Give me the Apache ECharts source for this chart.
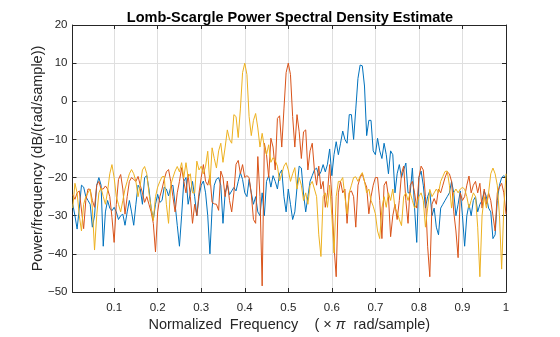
<!DOCTYPE html>
<html>
<head>
<meta charset="utf-8">
<script src="https://cdn.jsdelivr.net/npm/echarts@6/dist/echarts.min.js"></script>
<style>
html,body{margin:0;padding:0;background:#fff;}
#chart{width:560px;height:337px;}
</style>
</head>
<body>
<div id="chart"></div>
<script>
// Frequency grid (normalized, x pi rad/sample), step 0.005
const freqStart = 0.005;
const freqStep = 0.005;
const xTickLabels = ['0.1','0.2','0.3','0.4','0.5','0.6','0.7','0.8','0.9','1'];
const yTickLabels = ['\u221250','\u221240','\u221230','\u221220','\u221210','0','10','20'];

const blueDb = [
 -27,-30,-33.5,-28,-22,-22.5,-25,-26,-27,-33,
 -30,-22,-20,-22,-38,-29,-26,-28,-28.7,-27.8,
 -29,-31,-30,-29.6,-32.5,-29,-26,-29,-32.5,-27,
 -22,-23,-27,-20,-19.5,-23,-28,-31,-27,-24.4,
 -26.5,-26,-22.5,-23,-24.8,-22.5,-22,-27,-32.5,-38,
 -30,-21,-20,-27,-24,-21,-25,-30,-25,-22,
 -20.9,-24,-30,-40,-28,-22,-20.4,-20,-22,-32,
 -24,-22,-24.5,-23.5,-22.6,-23.5,-21,-18.7,-20.5,-24,
 -25,-20.5,-24,-27,-25,-29,-30,-24,-30,-21,
 -19.5,-22.5,-19.5,-21,-23,-19,-18,-25,-29,-23,
 -27,-31,-29,-22.6,-17,-17.5,-24.3,-29,-25,-21,
 -19.5,-18,-17.5,-19.5,-18.5,-16.6,-18.5,-16.5,-12.5,-19.5,
 -14,-10.6,-14,-11,-7.8,-10,-11,-3.5,-3.5,-10,
 -2,6,9.5,9.3,4,-9,-5,-5,-13,-14,
 -9.7,-13,-15,-11,-14,-19,-13,-14,-24,-19,
 -16.6,-20,-18,-16.2,-24,-24,-17.5,-28,-37,-20,
 -18.3,-22,-28,-25,-23.5,-30,-28,-33,-35,-28,
 -27,-26,-25,-24,-21,-24,-30,-27,-23.5,-30,
 -38,-30,-27,-30,-26,-25,-29,-27,-26,-23.5,
 -25,-28,-29,-36,-35,-26,-22,-20,-19.5,-20
];

const orangeDb = [
 -24.5,-25.7,-24,-23.5,-28.5,-33.4,-26,-23,-23.1,-26,
 -27.8,-22,-21,-23,-23,-22.2,-23,-25,-30.4,-37,
 -27,-20.5,-19.2,-23,-29.6,-25,-21,-20,-20.5,-21,
 -19.7,-22,-24,-26.5,-25,-27,-29,-32,-39.5,-29,
 -25,-23,-20.5,-18.5,-17.9,-21,-25,-29,-24,-21,
 -17.4,-21,-24,-19.1,-25,-32,-27,-30,-24,-20,
 -16.6,-21,-22,-19.5,-26.5,-26.9,-27,-28.6,-18.3,-20,
 -25,-20.9,-26,-29,-24,-16.5,-15.5,-19,-16.6,-20,
 -19.5,-20,-24.3,-31,-32,-14.5,-25,-48.4,-11,-14,
 -20,-9.7,-12,-18,-4.5,-3.8,-12,-2,7.5,10,
 7,-4,-12,-3.5,-8,-15,-8,-7.5,-18,-13,
 -11,-18,-22,-17,-23,-21,-27.8,-24,-16.6,-25,
 -38,-46,-24,-21,-24,-23,-32,-24,-23.5,-25,
 -33,-22,-20,-19,-21,-22.5,-29.5,-25,-22,-20,
 -20,-26,-36,-22,-21,-25,-35.5,-30,-27,-31,
 -26,-19,-17,-26,-32,-22,-21,-24,-28,-20,
 -17,-18,-25,-38,-46,-27,-25.5,-27,-23,-24,
 -22,-20,-18.5,-19,-21,-29,-34,-41,-24,-26,
 -25,-22,-19.6,-24,-22,-21,-24,-21.5,-28,-23,
 -27,-24,-26,-30,-34,-24,-22.5,-21.5,-24,-29.6
];

const yellowDb = [
 -28,-21.5,-24,-30,-34,-27,-25,-24,-23,-28,
 -39,-30,-24,-22.7,-25,-27,-23.5,-19,-16.6,-20,
 -25,-27,-29,-26,-23,-21,-19,-17.9,-19,-21,
 -25,-22,-18,-17.1,-19,-24,-28,-31.3,-25,-22.5,
 -21,-19.8,-19.7,-27,-32,-22,-20,-18.3,-17.1,-18.5,
 -16.1,-20,-16.1,-20,-19,-24,-24,-15.7,-18,-17,
 -19,-17,-13.1,-22,-12.2,-15,-17.5,-13,-11,-16,
 -12,-7.5,-10,-11,-3.5,-4,-9.5,-2,7.5,10,
 7,-4,-9,-5,-3.2,-7,-12,-8.4,-12,-14,
 -11.4,-16,-14.8,-15.5,-17,-20.9,-19,-17,-16.1,-18,
 -21,-19,-17.4,-23,-20,-22,-26,-24,-27,-22,
 -21,-23,-25,-35,-40.7,-25,-24,-27.8,-22,-30,
 -39.8,-25,-21,-21,-20,-25,-29.5,-24,-22,-20,
 -19.8,-21,-19.6,-18.7,-21,-24,-23,-26,-27.5,-29.5,
 -34,-36,-28,-25,-27.8,-24,-26,-23,-28,-29,
 -31,-32.6,-25,-24,-26,-24,-26,-28,-27,-25,
 -24,-26,-33,-28,-23.1,-25,-24,-23,-24,-21,
 -19.7,-18.4,-18.3,-22,-28,-24,-23,-24,-23,-22.6,
 -23,-25,-28,-26,-24,-25,-33,-46,-30,-25,
 -28,-24,-19,-17.5,-19,-22,-30,-44,-28,-19
];

function pairs(vals){
  return vals.map((v,i)=>[+(freqStart + i*freqStep).toFixed(4), v]);
}

const FONT = '"Liberation Sans", Arial, Helvetica, sans-serif';
const AX = '#262626';
const GRIDC = '#dfdfdf';

const chart = echarts.init(document.getElementById('chart'), null, {renderer:'canvas'});
const xCommon = {
  type:'value', min:0.0044, max:1, minInterval:0.1, maxInterval:0.1, splitNumber:10
};
chart.setOption({
  animation:false,
  backgroundColor:'#ffffff',
  title:{
    text:'Lomb-Scargle Power Spectral Density Estimate',
    left:285, textAlign:'center', top:5,
    textStyle:{fontFamily:FONT, fontSize:14.5, fontWeight:'bold', color:'#000'}
  },
  grid:{left:72.5, right:54, top:25, bottom:42, containLabel:false},
  xAxis:[
    Object.assign({}, xCommon, {
      position:'bottom',
      name:'Normalized  Frequency    ( × {i|π}  rad/sample)',
      nameLocation:'middle', nameGap:25, nameMoveOverlap:false,
      nameTextStyle:{fontFamily:FONT, fontSize:14.5, color:'#262626',
        rich:{i:{fontFamily:FONT, fontSize:14.5, fontStyle:'italic', color:'#262626'}}},
      axisLine:{show:true, onZero:false, lineStyle:{color:AX, width:1}},
      axisTick:{show:true, inside:true, length:4, lineStyle:{color:AX}},
      axisLabel:{fontFamily:FONT, fontSize:11.5, color:'#262626', margin:10,
        showMinLabel:true,
        formatter:function(v){ if (v < 0.05) return ''; const k = Math.round(v*10); return xTickLabels[k-1] || ''; }},
      splitLine:{show:true, lineStyle:{color:GRIDC, width:1}}
    }),
    Object.assign({}, xCommon, {
      position:'top',
      axisLine:{show:true, onZero:false, lineStyle:{color:AX, width:1}},
      axisTick:{show:true, inside:true, length:4, lineStyle:{color:AX}},
      axisLabel:{show:false},
      splitLine:{show:false}
    })
  ],
  yAxis:[
    {
      type:'value', min:-50, max:20, interval:10, position:'left',
      name:'Power/frequency (dB/(rad/sample))',
      nameLocation:'middle', nameGap:27, nameRotate:90, nameMoveOverlap:false,
      nameTextStyle:{fontFamily:FONT, fontSize:14.5, color:'#262626'},
      axisLine:{show:true, onZero:false, lineStyle:{color:AX, width:1}},
      axisTick:{show:true, inside:true, length:4, lineStyle:{color:AX}},
      axisLabel:{fontFamily:FONT, fontSize:11.5, color:'#262626', margin:5,
        formatter:function(v){ const k = Math.round((v+50)/10); return yTickLabels[k] || ''; }},
      splitLine:{show:true, lineStyle:{color:GRIDC, width:1}}
    },
    {
      type:'value', min:-50, max:20, interval:10, position:'right',
      axisLine:{show:true, onZero:false, lineStyle:{color:AX, width:1}},
      axisTick:{show:true, inside:true, length:4, lineStyle:{color:AX}},
      axisLabel:{show:false},
      splitLine:{show:false}
    }
  ],
  series:[
    {type:'line', name:'s1', data:pairs(blueDb), showSymbol:false, symbol:'none', smooth:false,
      lineStyle:{color:'#0072BD', width:1}, itemStyle:{color:'#0072BD'}, xAxisIndex:0, yAxisIndex:0, z:2},
    {type:'line', name:'s2', data:pairs(orangeDb), showSymbol:false, symbol:'none', smooth:false,
      lineStyle:{color:'#D95319', width:1}, itemStyle:{color:'#D95319'}, xAxisIndex:0, yAxisIndex:0, z:3},
    {type:'line', name:'s3', data:pairs(yellowDb), showSymbol:false, symbol:'none', smooth:false,
      lineStyle:{color:'#EDB120', width:1}, itemStyle:{color:'#EDB120'}, xAxisIndex:0, yAxisIndex:0, z:4}
  ]
});
</script>
</body>
</html>
